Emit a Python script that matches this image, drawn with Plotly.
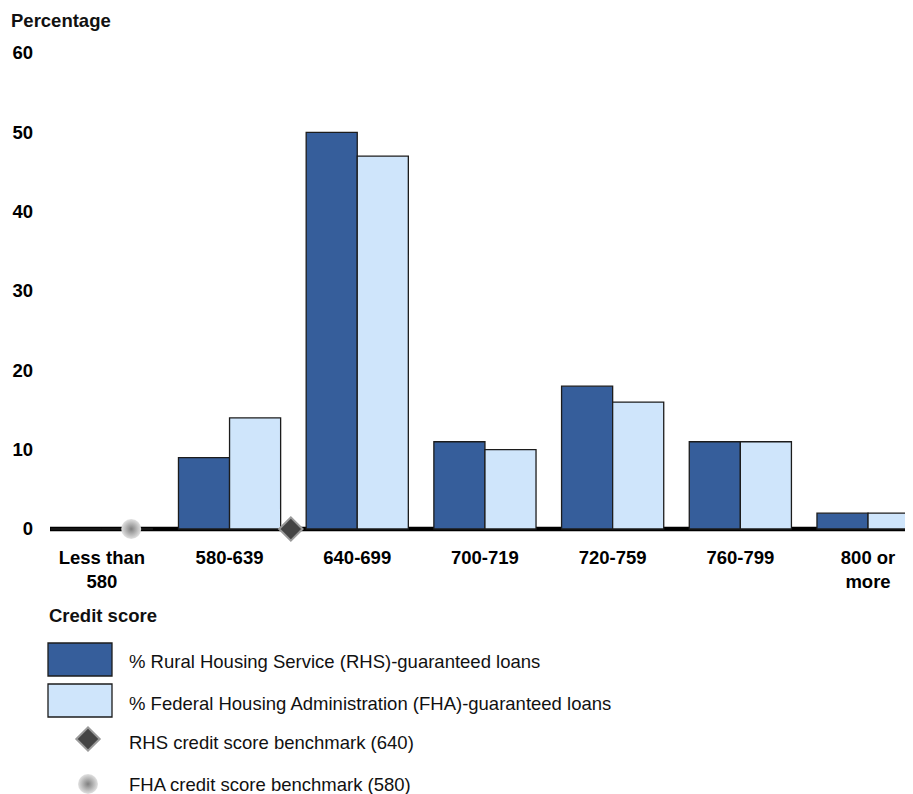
import plotly.graph_objects as go

# data
categories = ["Less than<br>580", "580-639", "640-699", "700-719", "720-759", "760-799", "800 or<br>more"]
rhs_pct = [0, 9, 50, 11, 18, 11, 2]
fha_pct = [0, 14, 47, 10, 16, 11, 2]
# benchmark positions on the category axis (580 and 640 cut-offs)
fha_bench_x = [0.23]
rhs_bench_x = [1.48]
y_ticks = [0, 10, 20, 30, 40, 50, 60]

DARK = "#365e9b"
LIGHT = "#cfe5fb"
EDGE = "#1c1c1c"
FONT = "Liberation Sans, Arial, sans-serif"
FS = 18.5

# the page body adds an 8px margin, so the figure is shifted by 8px
OFF = 8
PAGE_W, PAGE_H = 913, 794
W, H = PAGE_W, PAGE_H - OFF
L = 50 - OFF
R = W - (PAGE_W - OFF)   # plot area ends at the page's right edge
pos = list(range(len(categories)))

Y_MIN = -0.4
PX_PER_UNIT = (529 - 53) / 60


def px_x(p):
    # page pixel -> paper x
    return (p - OFF - L) / (W - L - R)


def px_y(p):
    return 1 - (p - OFF) / H


def bench_marker(symbol):
    if symbol == "diamond":
        return dict(symbol="diamond", size=18, color="#444444", line=dict(color="#9a9a9a", width=2))
    return dict(symbol="circle", size=20, color="#e2e2e2",
                gradient=dict(type="radial", color="#808080"), line=dict(width=0))


fig = go.Figure()
fig.add_trace(go.Bar(x=pos, y=rhs_pct, marker=dict(color=DARK, line=dict(color=EDGE, width=1.3)),
                     showlegend=False))
fig.add_trace(go.Bar(x=pos, y=fha_pct, marker=dict(color=LIGHT, line=dict(color=EDGE, width=1.3)),
                     showlegend=False))
fig.add_trace(go.Scatter(x=fha_bench_x, y=[0], mode="markers", cliponaxis=False, showlegend=False,
                         marker=bench_marker("circle")))
fig.add_trace(go.Scatter(x=rhs_bench_x, y=[0], mode="markers", cliponaxis=False, showlegend=False,
                         marker=bench_marker("diamond")))

# legend markers on a helper axis spanning the figure in page pixels
fig.add_trace(go.Scatter(x=[88], y=[739], xaxis="x2", yaxis="y2", mode="markers", showlegend=False,
                         cliponaxis=False, marker=bench_marker("diamond")))
fig.add_trace(go.Scatter(x=[88], y=[784], xaxis="x2", yaxis="y2", mode="markers", showlegend=False,
                         cliponaxis=False, marker=bench_marker("circle")))

fig.update_layout(
    template="none",
    width=W, height=H, autosize=False,
    margin=dict(l=L, r=R, t=0, b=0, pad=0, autoexpand=False),
    paper_bgcolor="white", plot_bgcolor="rgba(0,0,0,0)",
    barmode="group", bargap=0.2, bargroupgap=0,
    font=dict(family=FONT, size=FS, color="#000"),
    xaxis=dict(range=[-0.406, 6.352], domain=[0, 1], tickmode="array", tickvals=pos, ticktext=categories,
               showgrid=False, zeroline=False, showline=False, ticks="", automargin=False,
               tickfont=dict(size=FS, weight="bold"), ticklabelstandoff=12),
    yaxis=dict(range=[Y_MIN, 60], domain=[px_y(529 - Y_MIN * PX_PER_UNIT), px_y(53)], tickvals=y_ticks,
               showgrid=False, zeroline=False, showline=False, ticks="", automargin=False,
               tickfont=dict(size=FS, weight="bold"), ticklabelstandoff=16),
    xaxis2=dict(domain=[0, 1], range=[50, PAGE_W], visible=False, anchor="y2", automargin=False),
    yaxis2=dict(domain=[0, 1], range=[PAGE_H, OFF], visible=False, anchor="x2", automargin=False),
)

# thick zero baseline
fig.add_shape(type="line", xref="paper", yref="y", x0=0, x1=1, y0=0, y1=0,
              line=dict(color="black", width=4.5), layer="below")

# custom legend swatches
fig.add_shape(type="rect", xref="paper", yref="paper", x0=px_x(48), x1=px_x(112), y0=px_y(643), y1=px_y(676),
              fillcolor=DARK, line=dict(color=EDGE, width=1.3))
fig.add_shape(type="rect", xref="paper", yref="paper", x0=px_x(48), x1=px_x(112), y0=px_y(684), y1=px_y(717),
              fillcolor=LIGHT, line=dict(color=EDGE, width=1.3))

labels = [
    ("<b>Percentage</b>", 9, 20),
    ("<b>Credit score</b>", 47, 615),
    ("% Rural Housing Service (RHS)-guaranteed loans", 127, 661),
    ("% Federal Housing Administration (FHA)-guaranteed loans", 127, 703),
    ("RHS credit score benchmark (640)", 127, 742),
    ("FHA credit score benchmark (580)", 127, 784),
]
for text, x, y in labels:
    fig.add_annotation(text=text, xref="paper", yref="paper", x=px_x(x), y=px_y(y),
                       xanchor="left", yanchor="middle", showarrow=False,
                       font=dict(family=FONT, size=FS, color="#111"))

fig.write_html("out.html")
